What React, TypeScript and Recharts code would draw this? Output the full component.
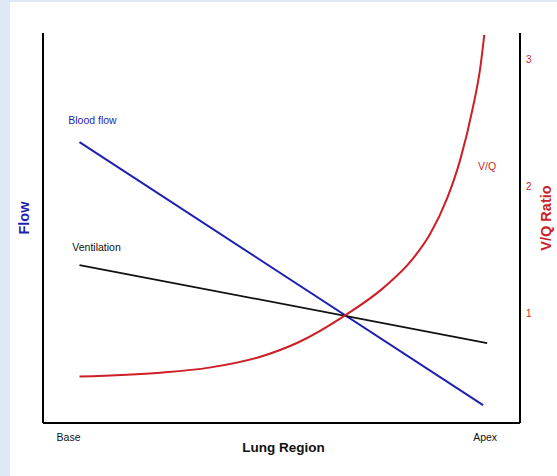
import React from "react";
import { LineChart, Line, XAxis, YAxis, ReferenceDot } from "recharts";

// Lung region positions (0 = base, 100 = apex)
const xTickPositions = [-2.7, 100];
const xTickLabels = ["Base", "Apex"];

// Blood flow (left axis, arbitrary flow units)
const bloodPos = [0, 99.5];
const bloodFlow = [72, 4.6];

// Ventilation (left axis)
const ventPos = [0, 100.5];
const ventFlow = [40.5, 20.5];

// V/Q ratio (right axis)
const vqPos = [0, 20, 32, 44, 54, 65.4, 75, 82, 86.4, 90.6, 93.8, 97, 98.8, 99.8];
const vqValues = [0.5, 0.53, 0.57, 0.65, 0.77, 0.98, 1.2, 1.42, 1.62, 1.9, 2.2, 2.62, 2.93, 3.19];

const vqTicks = [1, 2, 3];

const bloodData = bloodPos.map((p, i) => ({ pos: p, flow: bloodFlow[i] }));
const ventData = ventPos.map((p, i) => ({ pos: p, flow: ventFlow[i] }));
const vqData = vqPos.map((p, i) => ({ pos: p, vq: vqValues[i] }));

const BLUE = "#1f1fb2";
const RED = "#cc1f26";
const FONT = "'Liberation Sans', Arial, Helvetica, sans-serif";

const XTick = (props: any) => {
  const { x, y, payload } = props;
  const idx = xTickPositions.indexOf(payload.value);
  return (
    <text x={x} y={y} dy="0.71em" textAnchor="middle" fontSize={10.5} fill="#111" fontFamily={FONT}>
      {xTickLabels[idx]}
    </text>
  );
};

export default function App() {
  return (
    <div style={{ position: "absolute", left: 0, top: 0, width: 557, height: 476, background: "#dfe9f5" }}>
      <div style={{ position: "absolute", left: 10, top: 2, width: 547, height: 474, background: "#ffffff" }} />
      <div style={{ position: "absolute", left: 0, top: 0 }}>
        <LineChart width={557} height={476} margin={{ top: 33, right: 0, bottom: 23, left: 0 }}>
          <XAxis
            dataKey="pos"
            type="number"
            domain={[-9, 108.6]}
            allowDataOverflow
            ticks={xTickPositions}
            tick={<XTick />}
            tickLine={false}
            tickSize={6}
            tickMargin={5}
            height={30}
            axisLine={{ stroke: "#000", strokeWidth: 2 }}
            label={{ value: "Lung Region", position: "center", dx: 2, dy: 9, fill: "#111", fontSize: 13.5, fontWeight: "bold", fontFamily: FONT }}
          />
          <YAxis
            yAxisId="flow"
            orientation="left"
            type="number"
            domain={[0, 100]}
            width={43}
            tick={false}
            tickLine={false}
            axisLine={{ stroke: "#000", strokeWidth: 2 }}
            label={{ value: "Flow", angle: -90, position: "center", dx: 2, dy: -10, fill: BLUE, fontSize: 14.5, fontWeight: "bold", fontFamily: FONT }}
          />
          <YAxis
            yAxisId="vq"
            orientation="right"
            type="number"
            domain={[0.134, 3.205]}
            allowDataOverflow
            ticks={vqTicks}
            width={37}
            tickLine={false}
            tickSize={4}
            tickMargin={2}
            tick={{ fill: RED, fontSize: 10, fontFamily: FONT }}
            axisLine={{ stroke: "#000", strokeWidth: 2 }}
            label={{ value: "V/Q Ratio", angle: -90, position: "center", dx: 7, dy: -10, fill: RED, fontSize: 14.5, fontWeight: "bold", fontFamily: FONT }}
          />
          <Line
            yAxisId="flow"
            data={bloodData}
            dataKey="flow"
            type="linear"
            stroke={BLUE}
            strokeWidth={2}
            dot={false}
            activeDot={false}
            isAnimationActive={false}
          />
          <Line
            yAxisId="flow"
            data={ventData}
            dataKey="flow"
            type="linear"
            stroke="#111"
            strokeWidth={1.8}
            dot={false}
            activeDot={false}
            isAnimationActive={false}
          />
          <Line
            yAxisId="vq"
            data={vqData}
            dataKey="vq"
            type="monotone"
            stroke={RED}
            strokeWidth={2}
            dot={false}
            activeDot={false}
            isAnimationActive={false}
          />
          <ReferenceDot yAxisId="flow" x={3.2} y={77.7} r={0} ifOverflow="visible"
            label={{ value: "Blood flow", position: "center", fill: BLUE, fontSize: 10.5, fontFamily: FONT }} />
          <ReferenceDot yAxisId="flow" x={4.2} y={45.1} r={0} ifOverflow="visible"
            label={{ value: "Ventilation", position: "center", fill: "#111", fontSize: 10.5, fontFamily: FONT }} />
          <ReferenceDot yAxisId="flow" x={100.5} y={65.9} r={0} ifOverflow="visible"
            label={{ value: "V/Q", position: "center", fill: RED, fontSize: 10.5, fontFamily: FONT }} />
        </LineChart>
      </div>
    </div>
  );
}
